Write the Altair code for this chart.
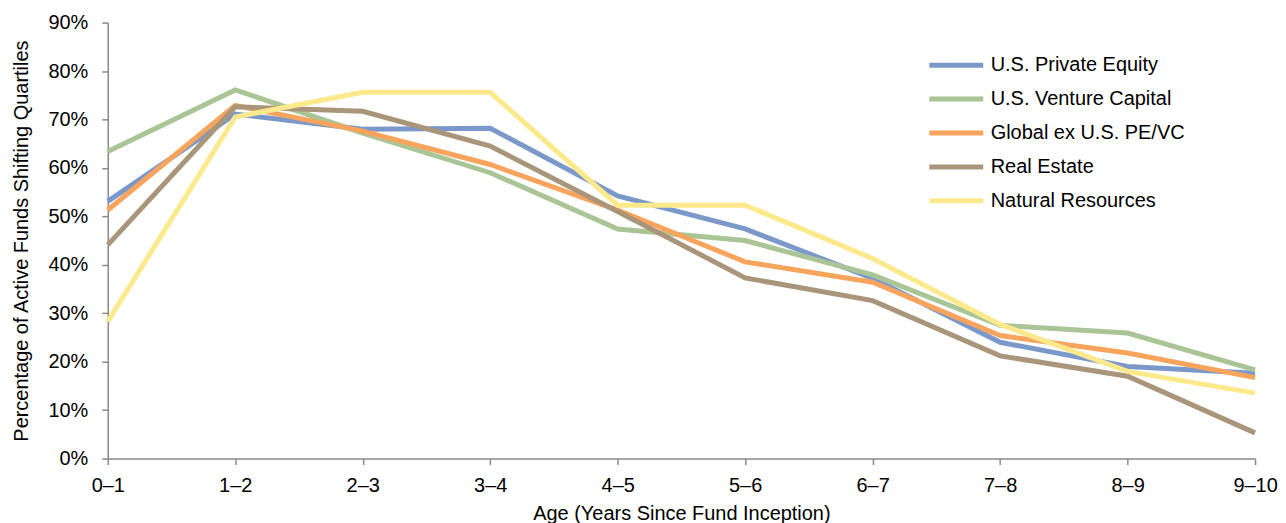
import altair as alt
import pandas as pd

ages = ["0–1", "1–2", "2–3", "3–4", "4–5", "5–6", "6–7", "7–8", "8–9", "9–10"]
series_names = ["U.S. Private Equity", "U.S. Venture Capital", "Global ex U.S. PE/VC",
                "Real Estate", "Natural Resources"]
colors = ["#7B98CB", "#A9C596", "#F8A45C", "#A8957A", "#FCE98C"]

us_pe = [53.1, 71.1, 68.0, 68.2, 54.2, 47.4, 37.2, 24.0, 19.0, 17.6]
us_vc = [63.4, 76.1, 67.2, 59.0, 47.4, 45.0, 37.9, 27.5, 25.9, 18.3]
global_ex_us = [51.3, 72.9, 67.6, 60.7, 51.3, 40.6, 36.4, 25.4, 21.8, 16.7]
real_estate = [44.1, 72.6, 71.7, 64.5, 51.0, 37.3, 32.6, 21.2, 17.0, 5.3]
natural_res = [28.3, 70.5, 75.6, 75.6, 52.3, 52.3, 41.3, 27.7, 18.0, 13.5]

y_ticks = [0, 10, 20, 30, 40, 50, 60, 70, 80, 90]

rows = []
for name, vals in zip(series_names, [us_pe, us_vc, global_ex_us, real_estate, natural_res]):
    for a, v in zip(ages, vals):
        rows.append({"Age": a, "Value": v, "Series": name, "order": series_names.index(name)})
df = pd.DataFrame(rows)

font = "Liberation Sans"
fs = 20
axis_gray = "#898989"

chart = alt.Chart(df).mark_line(strokeWidth=5, strokeJoin="miter", strokeCap="butt").encode(
    x=alt.X("Age:N", sort=ages, scale=alt.Scale(padding=0),
            axis=alt.Axis(title="Age (Years Since Fund Inception)", labelAngle=0,
                          labelFontSize=fs, titleFontSize=fs, labelFont=font, titleFont=font,
                          labelColor="#000000", titleColor="#000000", titleFontWeight="normal",
                          domainColor=axis_gray, tickColor=axis_gray, domainWidth=1.5,
                          tickWidth=1.5, tickSize=6, labelPadding=11, titlePadding=8,
                          grid=False)),
    y=alt.Y("Value:Q", scale=alt.Scale(domain=[0, 90], nice=False),
            axis=alt.Axis(title="Percentage of Active Funds Shifting Quartiles", values=y_ticks,
                          labelExpr="datum.value + '%'",
                          labelFontSize=fs, titleFontSize=fs, labelFont=font, titleFont=font,
                          labelColor="#000000", titleColor="#000000", titleFontWeight="normal",
                          domainColor=axis_gray, tickColor=axis_gray, domainWidth=1.5,
                          tickWidth=1.5, tickSize=6, labelPadding=14, titlePadding=16,
                          grid=False)),
    color=alt.Color("Series:N", sort=series_names,
                    scale=alt.Scale(domain=series_names, range=colors),
                    legend=alt.Legend(title=None, orient="none", legendX=821, legendY=26,
                                      symbolType="stroke", symbolSize=2916,
                                      symbolStrokeWidth=5, labelFontSize=fs, labelFont=font,
                                      labelColor="#000000", rowPadding=0, clipHeight=33.4,
                                      labelOffset=5, padding=0, labelLimit=300)),
    order=alt.Order("order:Q", sort="ascending"),
).properties(
    width=1150, height=437,
    padding={"left": 3, "top": 4, "right": 0, "bottom": 0},
).configure_view(stroke=None)

chart.save("out.html", embed_options={"renderer": "svg", "actions": False})
